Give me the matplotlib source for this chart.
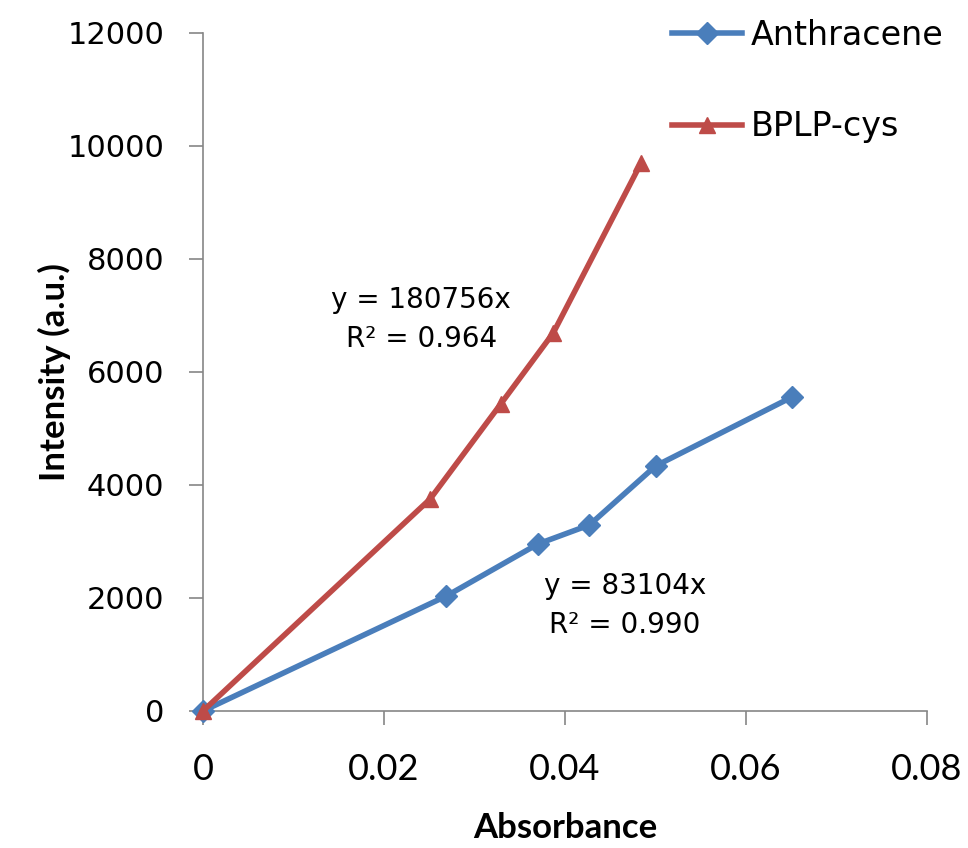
import matplotlib.pyplot as plt

# data
anth_x = [0, 0.0269, 0.037, 0.0427, 0.050, 0.0651]
anth_y = [0, 2035, 2955, 3292, 4336, 5558]
bplp_x = [0, 0.0251, 0.0329, 0.0387, 0.0484]
bplp_y = [0, 3752, 5434, 6690, 9699]

fig = plt.figure(figsize=(9.68, 8.48), dpi=100)
ax = fig.add_axes([0.2097, 0.1616, 0.748, 0.7995])

ax.plot(anth_x, anth_y, color='#4a7ebb', lw=4, marker='D', ms=11, label='Anthracene', clip_on=False, zorder=3)
ax.plot(bplp_x, bplp_y, color='#be4b48', lw=4, marker='^', ms=12, label='BPLP-cys', clip_on=False, zorder=4)

ax.set_xlim(0, 0.08)
ax.set_ylim(0, 12000)
ax.set_xticks([0, 0.02, 0.04, 0.06, 0.08])
ax.set_xticklabels(['0', '0.02', '0.04', '0.06', '0.08'], fontfamily='Lato', fontsize=26)
ax.set_yticks(range(0, 12001, 2000))

for s in ['top', 'right']:
    ax.spines[s].set_visible(False)
for s in ['left', 'bottom']:
    ax.spines[s].set_color('#868686')
    ax.spines[s].set_linewidth(1.2)
ax.tick_params(axis='both', colors='#868686', length=10, width=1.2, labelcolor='black')
ax.tick_params(axis='y', labelsize=22, pad=18)
ax.tick_params(axis='x', pad=20)

ax.set_xlabel('Absorbance', fontsize=25, fontweight='bold', fontfamily='Lato', labelpad=19)
ax.set_ylabel('Intensity (a.u.)', fontsize=25, fontweight='bold', fontfamily='Lato', labelpad=-3)

ax.text(0.0241, 6920, 'y = 180756x\nR² = 0.964', fontsize=20, ha='center', va='center', linespacing=1.5)
ax.text(0.0466, 1858, 'y = 83104x\nR² = 0.990', fontsize=20, ha='center', va='center', linespacing=1.5)

ax.legend(loc='upper left', bbox_to_anchor=(0.607, 1.065), frameon=False, fontsize=24,
          handlelength=2.1, labelspacing=1.75, handletextpad=0.25)

fig.savefig('out.png')
